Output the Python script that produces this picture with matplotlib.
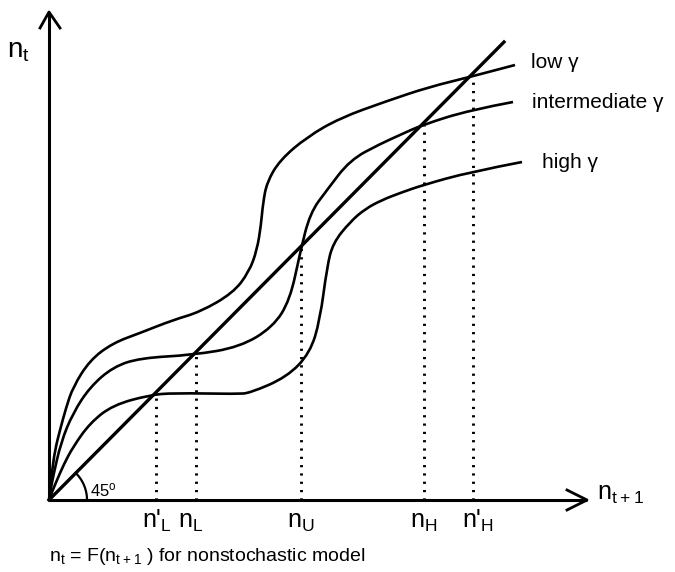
import numpy as np
import matplotlib.pyplot as plt
from matplotlib.path import Path
from matplotlib.patches import PathPatch

plt.rcParams['font.family'] = ['Liberation Sans', 'DejaVu Sans']
plt.rcParams['mathtext.default'] = 'regular'

# traced curves (x = n_t+1, y = n_t), arbitrary units
low_x = [0, 1, 3, 6, 11, 17, 24, 41, 64, 91, 124, 151, 184, 200, 208, 212, 214, 218, 231, 258, 291, 338, 380, 421, 466]
low_y = [0, 10, 28, 50, 70, 92, 113, 140, 157, 167, 180, 188, 207, 228, 250, 275, 297, 318, 340, 363, 382, 399, 413, 423, 435]

mid_x = [0, 2, 4, 12, 24, 41, 64, 91, 144, 191, 224, 241, 251, 261, 278, 301, 331, 351, 373, 421, 464]
mid_y = [0, 12, 23, 58, 87, 113, 133, 142, 145, 153, 173, 200, 247, 287, 310, 340, 356, 365, 375, 390, 398]

high_x = [0, 3, 8, 15, 24, 41, 64, 101, 124, 188, 201, 238, 261, 271, 278, 284, 301, 316, 333, 351, 374, 421, 473]
high_y = [0, 8, 20, 36, 53, 77, 95, 105, 107, 106, 107, 123, 147, 180, 233, 257, 278, 291, 300, 307, 315, 328, 338]

curve_names = ['low \u03b3', 'intermediate \u03b3', 'high \u03b3']

# equilibria on the 45 degree line
eq_x = [107, 147, 252, 375, 424]
eq_labels = ["n'$_L$", "n$_L$", "n$_U$", "n$_H$", "n'$_H$"]


def smooth_path(xs, ys):
    # quadratic bezier through midpoints, drawn by matplotlib
    pts = list(zip(xs, ys))
    verts = [pts[0]]
    codes = [Path.MOVETO]
    for i in range(1, len(pts) - 1):
        mx = (pts[i][0] + pts[i + 1][0]) / 2
        my = (pts[i][1] + pts[i + 1][1]) / 2
        if i == len(pts) - 2:
            mx, my = pts[-1]
        verts += [pts[i], (mx, my)]
        codes += [Path.CURVE3, Path.CURVE3]
    return Path(verts, codes)


fig = plt.figure(figsize=(6.75, 5.72), dpi=100)
ax = fig.add_axes([0, 0, 1, 1])
ax.set_xlim(-49, 626)
ax.set_ylim(-72, 500)
ax.axis('off')

# axes with arrows
ax.plot([0, 0], [0, 488], color='black', lw=2.2, solid_capstyle='butt')
ax.plot([-9, 0, 11], [472, 488, 472], color='black', lw=2.0)
ax.plot([0, 538], [0, 0], color='black', lw=2.2, solid_capstyle='butt')
ax.plot([518, 538, 518], [10, 0, -10], color='black', lw=2.0)

# 45 degree line
ax.plot([0, 455], [0, 458], color='black', lw=2.4)

# curves
for cx, cy in [(low_x, low_y), (mid_x, mid_y), (high_x, high_y)]:
    ax.add_patch(PathPatch(smooth_path(cx, cy), facecolor='none',
                           edgecolor='black', lw=1.9))

# dotted drop lines
for x in eq_x:
    ax.plot([x, x], [0, x], color='black', lw=2.1, linestyle=(0, (0.75, 2.1)))

# angle arc
t = np.linspace(0, np.pi / 4, 30)
ax.plot(38 * np.cos(t), 38 * np.sin(t), color='black', lw=1.6)
ax.text(41, 4, '45$^o$', fontsize=12, ha='left', va='baseline')

# curve labels
ax.text(482, 438, curve_names[0], fontsize=15, ha='left', va='center')
ax.text(483, 397, curve_names[1], fontsize=15, ha='left', va='center')
ax.text(493, 337, curve_names[2], fontsize=15, ha='left', va='center')

# axis labels
ax.text(-42, 442, 'n$_t$', fontsize=20, ha='left', va='baseline')
ax.text(548, 0, 'n$_{t+1}$', fontsize=18, ha='left', va='baseline')

lab_left = [93, 129, 238, 361, 413]
for lx, lab in zip(lab_left, eq_labels):
    ax.text(lx, -28, lab, fontsize=18, ha='left', va='baseline')

ax.text(0, -61, 'n$_t$ = F(n$_{t+1}$ ) for nonstochastic model', fontsize=14,
        ha='left', va='baseline')

fig.savefig('out.png', dpi=100)
